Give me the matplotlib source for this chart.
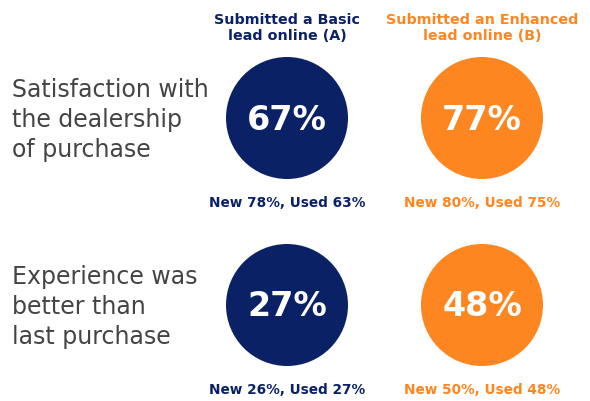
import matplotlib.pyplot as plt
from matplotlib.patches import Circle

# data
rows = ["Satisfaction with\nthe dealership\nof purchase",
        "Experience was\nbetter than\nlast purchase"]
groups = ["Submitted a Basic\nlead online (A)",
          "Submitted an Enhanced\nlead online (B)"]
totals = [[67, 77], [27, 48]]
new_vals = [[78, 80], [26, 50]]
used_vals = [[63, 75], [27, 48]]
colors = ["#0b2166", "#fe8620"]

fig = plt.figure(figsize=(5.9, 4.02), dpi=100)
ax = fig.add_axes([0, 0, 1, 1])
ax.set_xlim(0, 590)
ax.set_ylim(402, 0)
ax.set_aspect("equal")
ax.axis("off")

col_x = [287, 482]
row_y = [119, 306]
radius = 61

for j, g in enumerate(groups):
    ax.text(col_x[j], 28, g, ha="center", va="center", color=colors[j],
            fontsize=10.3, fontweight="bold", linespacing=1.25)

for i, r in enumerate(rows):
    ax.text(12, row_y[i] + 1, r, ha="left", va="center", color="#444444",
            fontsize=17, linespacing=1.3)
    for j in range(len(groups)):
        ax.add_patch(Circle((col_x[j], row_y[i]), radius, color=colors[j], lw=0))
        ax.text(col_x[j], row_y[i] + 1, f"{totals[i][j]}%", ha="center", va="center",
                color="white", fontsize=24, fontweight="heavy")
        ax.text(col_x[j], row_y[i] + 84,
                f"New {new_vals[i][j]}%, Used {used_vals[i][j]}%",
                ha="center", va="center", color=colors[j],
                fontsize=9.8, fontweight="bold")

fig.savefig("out.png", dpi=100)
